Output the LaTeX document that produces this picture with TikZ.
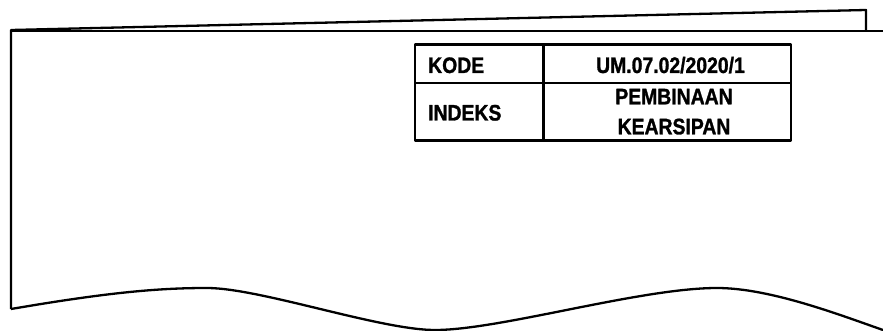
\documentclass[tikz,border=0pt]{standalone}
\usepackage{fontspec}
\setmainfont{Liberation Sans}
\newfontfamily\narrowsans{Liberation Sans}[FakeStretch=0.865,FakeBold=1.2]
\begin{document}
\begin{tikzpicture}[x=1pt,y=-1pt,line join=round]
\tikzset{
  edge/.style={line width=2.3pt},
  tbl/.style={line width=2.4pt},
  txt/.style={font=\narrowsans\bfseries\fontsize{22.4}{30}\selectfont,inner sep=0pt}
}
\useasboundingbox (0,0) rectangle (883,331);
% sheet outline
\coordinate (bl) at (11,309);
\coordinate (tl) at (11,30);
\coordinate (tr) at (866,10);
\coordinate (trb) at (866,30.5);
\coordinate (hl) at (11,31);
\coordinate (hr) at (883,31);
\draw[edge] (bl) -- (tl) -- (tr) -- (trb);
\draw[edge] (hl) -- (hr);
\draw[edge] (bl) .. controls (110,292) and (160,288) .. (207,288)
  .. controls (260,288) and (380,330) .. (435,330)
  .. controls (500,330) and (640,288) .. (717,288)
  .. controls (770,288) and (840,315) .. (883,330);
% table
\draw[tbl] (415,44.7) rectangle (791,140.7);
\draw[tbl] (415,83.3) -- (791,83.3);
\draw[tbl] (543.3,44.7) -- (543.3,140.7);
% texts
\node[txt,anchor=base west] (kode) at (428,73) {KODE};
\node[txt,anchor=base west] (indeks) at (428,120.5) {INDEKS};
\node[txt,anchor=base] (code) at (670.5,73) {UM.07.02/2020/1};
\node[txt,anchor=base] (pemb) at (674,104.3) {PEMBINAAN};
\node[txt,anchor=base] (kear) at (674,134.3) {KEARSIPAN};
\end{tikzpicture}
\end{document}
